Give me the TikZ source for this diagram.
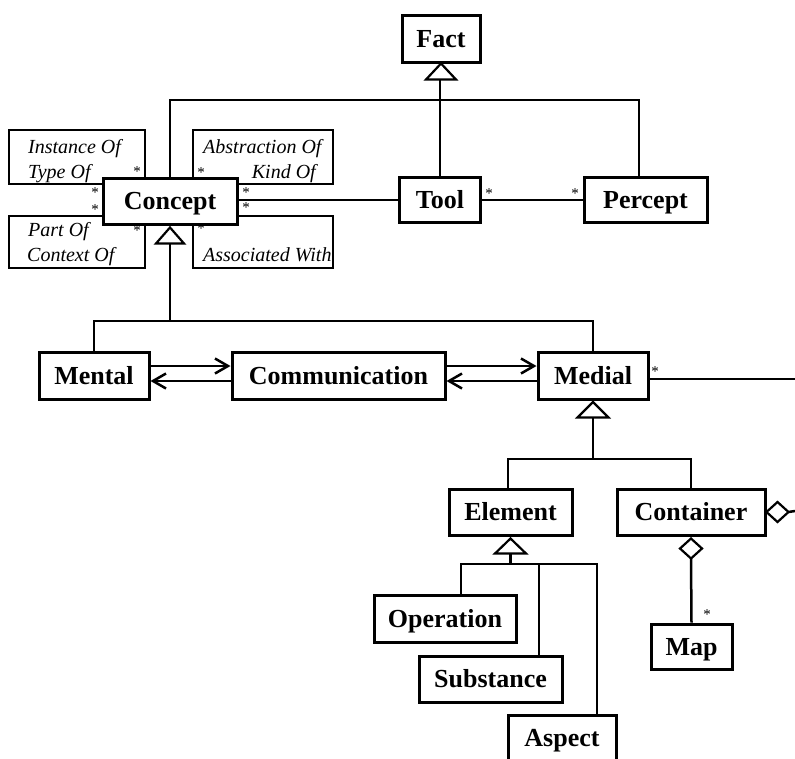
\documentclass[tikz,border=0pt]{standalone}
\usepackage{fontspec}
\setmainfont{Liberation Serif}
\usetikzlibrary{arrows.meta}
\begin{document}
\begin{tikzpicture}[x=1pt,y=-1pt,
  cls/.style={draw, line width=3pt, fill=white, inner sep=0pt,
    font=\bfseries\fontsize{26}{26}\selectfont, text height=17.5pt, text depth=0pt},
  link/.style={line width=2.5pt},
  gen/.style={line width=2.2pt, fill=white, line join=miter},
  agg/.style={line width=2.2pt, fill=white, line join=miter},
  role/.style={font=\itshape\fontsize{20}{20}\selectfont, inner sep=0pt},
  mult/.style={font=\fontsize{15}{15}\selectfont, inner sep=0pt},
  nav/.style={line width=2.5pt, -{Straight Barb[length=13pt,width=15pt]}},
]
\clip (0,0) rectangle (795,758);

% classes
\node[cls, minimum width=78pt,  minimum height=47pt] (fact)    at (441,38.5)  {Fact};
\node[cls, minimum width=134pt, minimum height=46pt] (concept) at (170,201)   {Concept};
\node[cls, minimum width=81pt,  minimum height=45pt] (tool)    at (440,199.5) {Tool};
\node[cls, minimum width=123pt, minimum height=45pt] (percept) at (645.5,199.5) {Percept};
\node[cls, minimum width=110pt, minimum height=47pt] (mental)  at (94,375.5)  {Mental};
\node[cls, minimum width=213pt, minimum height=47pt] (comm)    at (338.5,375.5) {Communication};
\node[cls, minimum width=110pt, minimum height=47pt] (medial)  at (593,375.5) {Medial};
\node[cls, minimum width=123pt, minimum height=46pt] (element) at (510.5,512) {Element};
\node[cls, minimum width=148pt, minimum height=46pt] (container) at (691,512) {Container};
\node[cls, minimum width=81pt,  minimum height=45pt] (map)     at (691.5,646.5) {Map};
\node[cls, minimum width=142pt, minimum height=47pt] (operation) at (445,618.5) {Operation};
\node[cls, minimum width=143pt, minimum height=46pt] (substance) at (490.5,679) {Substance};
\node[cls, minimum width=108pt, minimum height=46pt] (aspect)  at (562,738)   {Aspect};

% generalization to Fact
\coordinate (factbase) at ([yshift=-16pt]fact.south);
\draw[link] (tool.north) -- (tool.north |- factbase);
\draw[link] (concept.north) |- (639,100) -- (639,0 |- percept.north);
\draw[gen] (fact.south) -- ++(-15,16) -- ++(30,0) -- cycle;

% associations of Concept with itself
\draw[link] (concept.west |- 0,184) -| (9,130) -| (145,0 |- concept.north);
\draw[link] (193,0 |- concept.north) |- (333,130) |- (concept.east |- 0,184);
\draw[link] (concept.west |- 0,216) -| (9,268) -| (145,0 |- concept.south);
\draw[link] (concept.east |- 0,216) -| (333,268) -| (193,0 |- concept.south);

\node[role, anchor=base west] (instof) at (28,153) {Instance Of};
\node[role, anchor=base west] (typeof) at (28,178) {Type Of};
\node[role, anchor=base west] (abstrof) at (203,153) {Abstraction Of};
\node[role, anchor=base east] (kindof) at (316,178) {Kind Of};
\node[role, anchor=base west] (partof) at (28,236) {Part Of};
\node[role, anchor=base west] (contof) at (27,261) {Context Of};
\node[role, anchor=base west] (assoc) at (203,261) {Associated With};

\node[mult] (m1) at (137,172) {*};
\node[mult] (m2) at (95,193) {*};
\node[mult] (m3) at (95,210) {*};
\node[mult] (m4) at (137,231) {*};
\node[mult] (m5) at (201,173) {*};
\node[mult] (m6) at (246,193) {*};
\node[mult] (m7) at (246,208) {*};
\node[mult] (m8) at (201,229) {*};

% Concept, Tool, Percept
\draw[link] (concept.east |- 0,200) -- (tool.west |- 0,200);
\draw[link] (tool.east |- 0,200) -- (percept.west |- 0,200);
\node[mult] (m9) at (489,194) {*};
\node[mult] (m10) at (575,194) {*};

% kinds of Concept
\coordinate (conceptbase) at ([yshift=-18pt]concept.south);
\draw[link] (conceptbase) -- (conceptbase |- 0,321) -| (mental.north);
\draw[link] (conceptbase |- 0,321) -| (medial.north);
\draw[gen] ([yshift=-2pt]concept.south) -- ++(-14,16) -- ++(28,0) -- cycle;

% navigable links between the kinds
\draw[nav] ([yshift=9.5pt]mental.east) -- ([yshift=9.5pt]comm.west);
\draw[nav] ([yshift=-5.5pt]comm.west) -- ([yshift=-5.5pt]mental.east);
\draw[nav] ([yshift=9.5pt]comm.east) -- ([yshift=9.5pt]medial.west);
\draw[nav] ([yshift=-5.5pt]medial.west) -- ([yshift=-5.5pt]comm.east);

% Medial to the right
\coordinate (medialout) at (795,379);
\draw[link] ([yshift=-3.5pt]medial.east) -- (medialout);
\node[mult] (m11) at (655,372) {*};

% kinds of Medial
\coordinate (medialbase) at ([yshift=-17pt]medial.south);
\draw[link] (medialbase) -- (medialbase |- 0,459) -| (508,0 |- element.north);
\draw[link] (medialbase |- 0,459) -| (container.north);
\draw[gen] ([yshift=-1.5pt]medial.south) -- ++(-15.5,15.5) -- ++(31,0) -- cycle;

% Container aggregations
\coordinate (contout) at (795,511);
\draw[agg] (container.east) -- ++(11,-10) -- ++(11,10) -- ++(-11,10) -- cycle;
\draw[link] ([xshift=22pt]container.east) -- (contout);
\coordinate (contdiam) at ([yshift=-22pt]container.south);
\draw[link] (contdiam) -- (map.north);
\draw[agg] ([yshift=-2pt]container.south) -- ++(-11,10) -- ++(11,10) -- ++(11,-10) -- cycle;
\node[mult] (m12) at (707,615) {*};

% kinds of Element
\coordinate (elementbase) at ([yshift=-17pt]element.south);
\draw[link] (elementbase) -- (elementbase |- 0,564) -| (461,0 |- operation.north);
\draw[link] (elementbase |- 0,564) -| (597,0 |- aspect.north);
\draw[link] (539,564) -- (539,0 |- substance.north);
\draw[gen] ([yshift=-2pt]element.south) -- ++(-15.5,15) -- ++(31,0) -- cycle;

\end{tikzpicture}
\end{document}
